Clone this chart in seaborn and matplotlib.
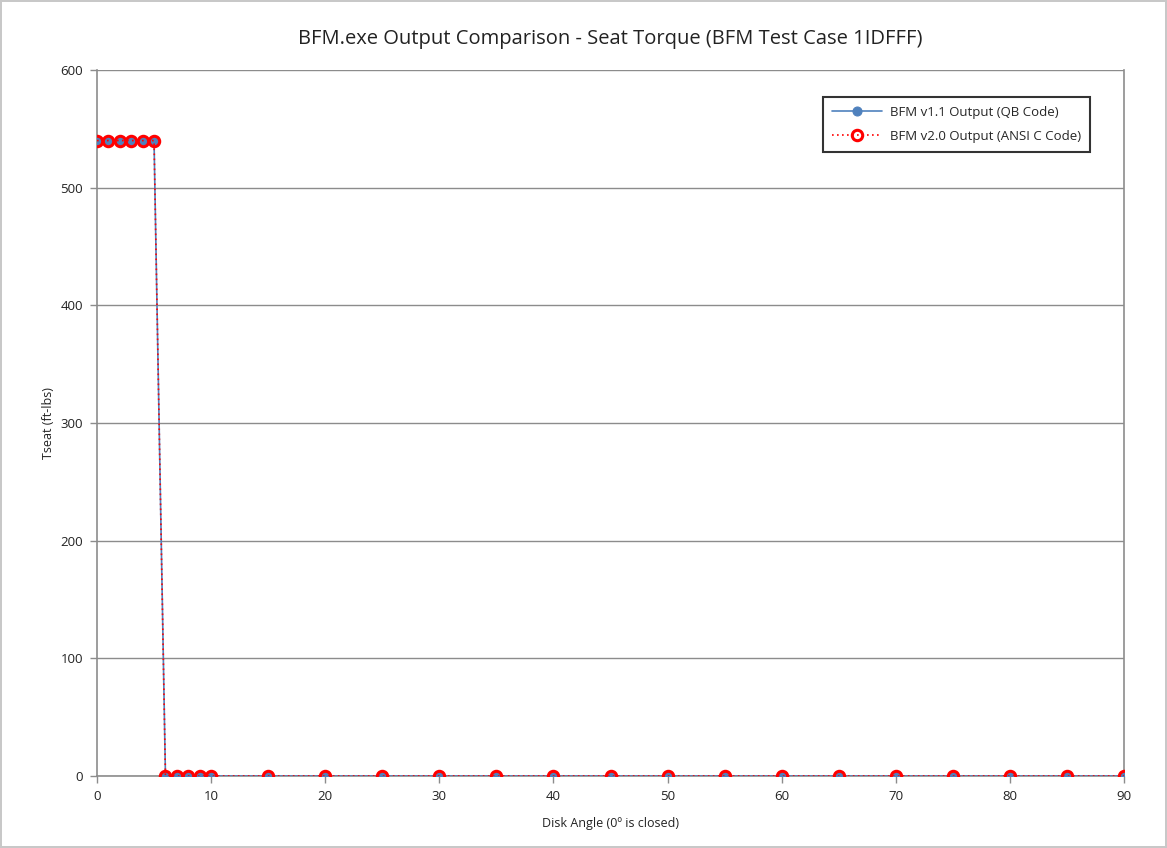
import matplotlib
matplotlib.use("Agg")
import matplotlib.pyplot as plt
import seaborn as sns
import pandas as pd

# Disk angle (degrees) and seat torque (ft-lbs) for both program versions
disk_angle = [0, 1, 2, 3, 4, 5, 6, 7, 8, 9, 10, 15, 20, 25, 30, 35, 40, 45,
              50, 55, 60, 65, 70, 75, 80, 85, 90]
torque_v11 = [540, 540, 540, 540, 540, 540, 0, 0, 0, 0, 0, 0, 0, 0, 0, 0, 0, 0,
              0, 0, 0, 0, 0, 0, 0, 0, 0]
torque_v20 = [540, 540, 540, 540, 540, 540, 0, 0, 0, 0, 0, 0, 0, 0, 0, 0, 0, 0,
              0, 0, 0, 0, 0, 0, 0, 0, 0]

label_v11 = "BFM v1.1 Output (QB Code)"
label_v20 = "BFM v2.0 Output (ANSI C Code)"
x_ticks = list(range(0, 91, 10))
y_ticks = list(range(0, 601, 100))

sns.set_theme(style="white")
plt.rcParams["font.family"] = ["Open Sans", "DejaVu Sans"]

df11 = pd.DataFrame({"angle": disk_angle, "torque": torque_v11})
df20 = pd.DataFrame({"angle": disk_angle, "torque": torque_v20})

fig = plt.figure(figsize=(11.67, 8.48), dpi=100)
fig.patch.set_edgecolor("#c8c8c8")
fig.patch.set_linewidth(1.5)
ax = fig.add_axes([0.0831, 0.0849, 0.8801, 0.8326])

blue = "#4F81BD"
red = "#FF0000"

sns.lineplot(data=df11, x="angle", y="torque", ax=ax, color=blue, linewidth=1.2,
             marker="o", markersize=6.5, markeredgecolor=blue, markerfacecolor=blue,
             label=label_v11, zorder=3)
sns.lineplot(data=df20, x="angle", y="torque", ax=ax, color=red, linewidth=1.2,
             linestyle=(0, (1, 2)), marker="o", markersize=7.5,
             markerfacecolor="none", markeredgecolor=red, markeredgewidth=2.2,
             label=label_v20, zorder=4)

ax.set_xlim(0, 90)
ax.set_ylim(0, 600)
ax.set_xticks(x_ticks)
ax.set_yticks(y_ticks)
ax.yaxis.grid(True, color="#8c8c8c", linewidth=1)
ax.xaxis.grid(False)
ax.set_axisbelow(True)
for side in ["left", "bottom", "right", "top"]:
    ax.spines[side].set_color("#8c8c8c")
    ax.spines[side].set_linewidth(1.2)
ax.spines["top"].set_visible(False)
ax.tick_params(axis="both", which="major", direction="out", length=5, width=1,
               color="#8c8c8c", labelsize=9.5, labelcolor="#222222", pad=5,
               bottom=True, left=True)

ax.set_xlabel("Disk Angle (0º is closed)", fontsize=9, color="#222222", labelpad=10)
ax.set_ylabel("Tseat (ft-lbs)", fontsize=9, color="#222222", labelpad=4)
ax.set_title("BFM.exe Output Comparison - Seat Torque (BFM Test Case 1IDFFF)",
             fontsize=14.5, color="#222222", pad=19)

leg = ax.legend(loc="upper right", bbox_to_anchor=(0.967, 0.962), fontsize=9.5,
                frameon=True, fancybox=False, edgecolor="black",
                borderaxespad=0, borderpad=0.7, handlelength=3.8,
                handletextpad=0.6, labelspacing=0.8)
leg.get_frame().set_linewidth(1.5)

fig.savefig("out.png", dpi=100)
